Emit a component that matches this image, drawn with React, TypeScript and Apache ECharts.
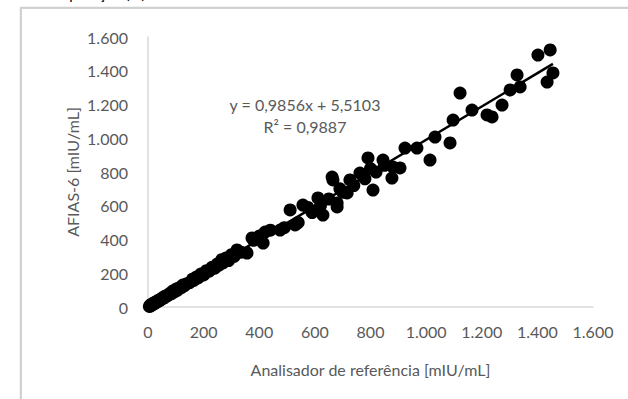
import React, { useEffect, useRef } from "react";
import * as echarts from "echarts";

const points: [number, number][] = [
  [5, 3], [8, 10], [10, 6], [12, 15], [15, 12], [18, 20], [20, 18], [22, 25], [25, 22], [28, 30],
  [30, 28], [35, 33], [38, 40], [40, 36], [45, 44], [48, 50], [50, 47], [55, 52], [58, 60], [60, 56],
  [65, 66], [70, 68], [75, 72], [80, 82], [85, 80], [90, 95], [95, 90], [100, 105], [105, 98], [110, 112],
  [120, 115], [125, 130], [130, 125], [140, 138], [150, 145], [160, 165], [165, 158], [175, 178], [180, 172],
  [190, 195], [200, 190], [210, 215], [220, 212], [230, 235], [240, 230], [250, 255], [255, 248], [265, 280],
  [270, 262], [280, 290], [290, 275], [300, 310], [310, 300], [320, 338], [335, 325], [356, 320], [374, 409],
  [380, 395], [400, 420], [414, 379], [421, 444], [440, 455], [475, 456], [490, 470], [511, 575], [529, 486],
  [540, 500], [557, 604], [575, 590], [590, 560], [611, 646], [629, 545], [620, 600], [650, 640], [662, 770],
  [665, 753], [680, 616], [680, 593], [690, 700], [700, 680], [716, 676], [726, 753], [740, 720], [762, 794],
  [780, 760], [791, 883], [800, 820], [809, 693], [820, 800], [845, 871], [850, 840], [877, 764], [880, 830],
  [906, 824], [924, 942], [967, 942], [1014, 871], [1032, 1007], [1086, 972], [1097, 1108], [1122, 1268],
  [1165, 1167], [1219, 1138], [1237, 1126], [1273, 1197], [1302, 1286], [1327, 1375], [1338, 1304],
  [1402, 1493], [1435, 1333], [1446, 1523], [1456, 1387],
];

const slope = 0.9856;
const intercept = 5.5103;
const trendX = [0, 1456];
const axisTicks = [0, 200, 400, 600, 800, 1000, 1200, 1400, 1600];

const fmt = (v: number) => String(v).replace(/\B(?=(\d{3})+(?!\d))/g, ".");

export default function App() {
  const ref = useRef<HTMLDivElement>(null);
  useEffect(() => {
    if (!ref.current) return;
    const chart = echarts.init(ref.current, null, { renderer: "svg" });
    const font = "Lato, 'Open Sans', sans-serif";
    chart.setOption({
      animation: false,
      textStyle: { fontFamily: font },
      grid: { left: 148, right: 35, top: 37, bottom: 92 },
      graphic: [
        {
          type: "line",
          shape: { x1: 20.5, y1: 7.5, x2: 20.5, y2: 399 },
          style: { stroke: "#cfcfcf", lineWidth: 1.5 },
          silent: true,
        },
        {
          type: "line",
          shape: { x1: 20.5, y1: 7.5, x2: 628, y2: 7.5 },
          style: { stroke: "#cfcfcf", lineWidth: 1.5 },
          silent: true,
        },
        {
          type: "text",
          x: 37,
          y: -15,
          style: { text: "Recuperação (%)", font: `15px ${font}`, fill: "#000" },
        },
        {
          type: "text",
          x: 305,
          y: 104,
          style: {
            text: "y = 0,9856x + 5,5103",
            font: `16px ${font}`,
            fill: "#595959",
            align: "center",
            verticalAlign: "middle",
          },
        },
        {
          type: "text",
          x: 305,
          y: 126,
          style: {
            text: "R² = 0,9887",
            font: `16px ${font}`,
            fill: "#595959",
            align: "center",
            verticalAlign: "middle",
          },
        },
      ],
      xAxis: {
        type: "value",
        min: axisTicks[0],
        max: axisTicks[axisTicks.length - 1],
        interval: 200,
        name: "Analisador de referência [mIU/mL]",
        nameLocation: "middle",
        nameGap: 54,
        nameMoveOverlap: false,
        nameTextStyle: { color: "#595959", fontSize: 16, fontFamily: font },
        axisLine: { show: true, lineStyle: { color: "#d9d9d9", width: 1.5 } },
        axisTick: { show: false },
        splitLine: { show: false },
        axisLabel: { color: "#595959", fontSize: 16, margin: 16, formatter: fmt, fontFamily: font },
      },
      yAxis: {
        type: "value",
        min: axisTicks[0],
        max: axisTicks[axisTicks.length - 1],
        interval: 200,
        name: "AFIAS-6 [mIU/mL]",
        nameLocation: "middle",
        nameGap: 68,
        nameMoveOverlap: false,
        nameTextStyle: { color: "#595959", fontSize: 16, fontFamily: font },
        axisLine: { show: true, lineStyle: { color: "#d9d9d9", width: 1.5 } },
        axisTick: { show: false },
        splitLine: { show: false },
        axisLabel: { color: "#595959", fontSize: 16, margin: 20, formatter: fmt, fontFamily: font },
      },
      series: [
        {
          type: "scatter",
          data: points,
          symbol: "circle",
          symbolSize: 13,
          itemStyle: { color: "#000", opacity: 1 },
        },
        {
          type: "line",
          data: trendX.map((x) => [x, slope * x + intercept]),
          symbol: "none",
          lineStyle: { color: "#000", width: 2.5 },
          z: 3,
        },
      ],
    });
    return () => chart.dispose();
  }, []);
  return (
    <div style={{ position: "absolute", left: 0, top: 0, width: 628, height: 399, overflow: "hidden" }}>
      <div
        style={{
          position: "absolute",
          left: 20,
          top: 7,
          width: 700,
          height: 500,
          borderLeft: "2px solid #d4d4d4",
          borderTop: "2px solid #d4d4d4",
          boxSizing: "border-box",
        }}
      />
      <div ref={ref} style={{ width: 628, height: 399, position: "absolute", left: 0, top: 0 }} />
    </div>
  );
}
